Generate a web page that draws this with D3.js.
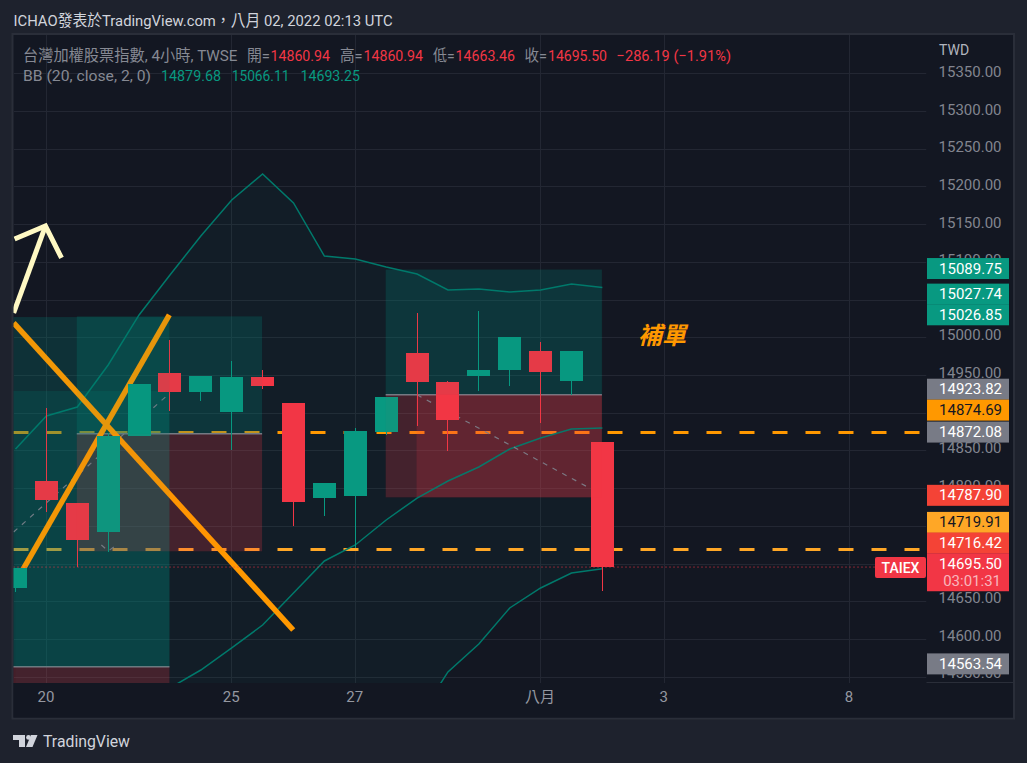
<!DOCTYPE html>
<html>
<head>
<meta charset="utf-8">
<script src="https://cdnjs.cloudflare.com/ajax/libs/d3/7.8.5/d3.min.js"></script>
<style>
html,body{margin:0;padding:0;background:#1e222d;overflow:hidden}
svg{display:block}
text{font-family:Roboto,"Noto Sans CJK TC",sans-serif}
</style>
</head>
<body>
<script>
// 4-hour TAIEX bars: [open, high, low, close]
const candles = [
  [14667.8,14694.3,14662.9,14694.3],[14809.6,14906.3,14768.9,14784.4],[14780.4,14780.4,14695.2,14731.8],
  [14742.4,14873.2,14715.9,14869.2],[14869.2,14938.1,14869.2,14938.1],[14952.7,14996.4,14902.7,14927.5],
  [14927.5,14948.7,14915.6,14948.7],[14901.0,14968.6,14850.6,14947.4],[14947.4,14956.7,14931.5,14935.5],
  [14912.9,14912.9,14749.9,14781.7],[14787.0,14806.9,14763.2,14806.9],[14789.8,14879.8,14720.8,14875.8],
  [14874.5,14920.9,14870.5,14920.9],[14979.2,15032.2,14882.5,14940.8],[14940.8,14942.1,14849.3,14890.4],
  [14948.7,15034.9,14928.8,14956.7],[14956.7,15000.4,14935.5,15000.4],[14981.8,14993.8,14886.4,14954.0],
  [14942.1,14981.8,14923.5,14981.8],[14860.94,14860.94,14663.46,14695.50]
];
// Bollinger bands (20, close, 2)
const bbUpper = [14852,14895.7,14907.6,14963.3,15029.6,15082.6,15134.2,15182,15216.4,15178,15107.7,15103.8,15093.2,15083.9,15062.7,15064,15060,15062.7,15070.6,15066.11];
const bbBasis = [14400,14426.6,14453,14479.6,14506,14535.3,14559.1,14588.3,14618.7,14661.1,14703.6,14724.8,14757.9,14787,14809.6,14828.1,14852,14866.6,14878.5,14879.68];
const bbLower = [13948,13957,13998.5,13996,13982,13988,13984,13994.6,14021,14144,14299.5,14345.8,14422.6,14492.8,14556.5,14593.6,14641.3,14667.8,14687.6,14693.25];

const gridPrices = [15350,15300,15250,15200,15150,15100,15050,15000,14950,14900,14850,14800,14750,14700,14650,14600,14550];
const priceTicks = [15350,15300,15250,15200,15150,15100,15000,14950,14850,14800,14650,14600,14550];
const dateTickBars = [1,7,11,17,21,27];
const dateTickLabels = ["20","25","27","八月","3","8"];

// Position tools: bar span plus top / entry / bottom prices
const zoneFrom = [-2,2,12];
const zoneTo = [5,8,19];
const zoneTop = [15026.85,15027.74,15089.75];
const zoneEntry = [14563.54,14872.08,14923.82];
const zoneBottom = [14400,14716.42,14787.90];
// Shaded excursion inside a position tool: bars and prices
const excursionGreen = {bars:[-2,5], prices:[14928.8,14563.54]};
const excursionRed = {bars:[13,19], prices:[14923.82,14787.90]};
const levelPrices = [14874.69,14719.91];
const levelColors = ["#FF9800","#FFA726"];
const lastClose = 14695.50;

// Hand-drawn trend lines as [bar, price] pairs
const trendDown = [[-0.06,15019],[8.99,14612.1]];
const trendUp = [[0.23,14691.6],[4.98,15029.6]];
const arrowShaft = [[-0.06,15032.2],[0.97,15147.5]];
const arrowHead = [[-0.03,15130.3],[0.97,15147.5],[1.49,15105.1]];
const pathDashes = [
  [[-0.06,14742],[5,14926.2]],
  [[2.78,14724.8],[3,14716.8],[3.27,14724.8]],
  [[13,14923.82],[18.76,14796.3]]
];

// Price tags on the axis
const tagValues = [15089.75,15027.74,15026.85,14923.82,14874.69,14872.08,14787.90,14719.91,14716.42,14695.50,14563.54];
const tagFills = ["#089981","#089981","#089981","#787B86","#FF9800","#787B86","#F44336","#FFA726","#F44336","#F23645","#787B86"];
const tagInk = ["#fff","#fff","#fff","#fff","#131722","#fff","#fff","#131722","#fff","#fff","#fff"];
const tagShift = [1,-20,0,-3,-19,1,1,-23,-5,0,1];
const countdown = "03:01:31";

const legendTitle = "台灣加權股票指數, 4小時, TWSE";
const ohlcNames = ["開=","高=","低=","收="];
const ohlcValues = ["14860.94","14860.94","14663.46","14695.50"];
const changeText = "−286.19 (−1.91%)";
const bbTitle = "BB (20, close, 2, 0)";
const bbValues = ["14879.68","15066.11","14693.25"];

const W = 1027, H = 763;
const plot = {l:13.5, r:926.5, t:35, b:683};
const axisRightEdge = 1013;
const RED = "#F23645", GREEN = "#089981", ZONE_GREEN = "#00897b";

const x = d3.scaleLinear().domain([0,19]).range([15.5,602.4]);
const y = d3.scaleLinear().domain([15000,14000]).range([337.3,1091.9]);
const yText = d3.scaleLinear().domain([15350,14600]).range([72,635.5]);

const svg = d3.select("body").append("svg").attr("width",W).attr("height",H);
svg.append("rect").attr("width",W).attr("height",H).attr("fill","#1e222d");

// Chart frame
svg.append("rect").attr("x",12.5).attr("y",34).attr("width",axisRightEdge-11.5).attr("height",684.5)
  .attr("fill","#131722").attr("stroke","#2a2e39").attr("stroke-width",2);

svg.append("defs").append("clipPath").attr("id","plotClip").append("rect")
  .attr("x",plot.l).attr("y",plot.t).attr("width",plot.r-plot.l).attr("height",plot.b-plot.t);
const g = svg.append("g").attr("clip-path","url(#plotClip)");

// Grid
const gridColor = "#232733";
g.append("g").selectAll("line").data(gridPrices).join("line")
  .attr("x1",plot.l).attr("x2",plot.r).attr("y1",d=>Math.round(y(d))+.5).attr("y2",d=>Math.round(y(d))+.5)
  .attr("stroke",gridColor);
g.append("g").selectAll("line").data(dateTickBars).join("line")
  .attr("y1",plot.t).attr("y2",plot.b).attr("x1",d=>Math.floor(x(d))+.5).attr("x2",d=>Math.floor(x(d))+.5)
  .attr("stroke",gridColor);

// Band fill
const bars = d3.range(candles.length);
g.append("path").datum(bars)
  .attr("d",d3.area().x(i=>x(i)).y0(i=>y(bbLower[i])).y1(i=>y(bbUpper[i])))
  .attr("fill",GREEN).attr("fill-opacity",.05);

// Horizontal levels
g.append("g").selectAll("line").data(levelPrices).join("line")
  .attr("x1",plot.l).attr("x2",plot.r).attr("y1",d=>Math.round(y(d))+.5).attr("y2",d=>Math.round(y(d))+.5)
  .attr("stroke",(d,i)=>levelColors[i]).attr("stroke-width",3).attr("stroke-dasharray","15,18");

// Position tools
function drawZones(layer, greenAlpha, redAlpha, lineAlpha){
  zoneFrom.forEach((f,i)=>{
    layer.append("rect").attr("x",x(f)-.5).attr("width",x(zoneTo[i])-x(f))
      .attr("y",y(zoneTop[i])).attr("height",y(zoneEntry[i])-y(zoneTop[i]))
      .attr("fill",ZONE_GREEN).attr("fill-opacity",greenAlpha);
    layer.append("rect").attr("x",x(f)-.5).attr("width",x(zoneTo[i])-x(f))
      .attr("y",y(zoneEntry[i])).attr("height",y(zoneBottom[i])-y(zoneEntry[i]))
      .attr("fill",RED).attr("fill-opacity",redAlpha);
    if(lineAlpha) layer.append("line").attr("x1",x(f)-.5).attr("x2",x(zoneTo[i])-.5)
      .attr("y1",y(zoneEntry[i])).attr("y2",y(zoneEntry[i]))
      .attr("stroke","#787b86").attr("stroke-width",1.5);
  });
}
drawZones(g,.2,.2,1);
[[excursionGreen,ZONE_GREEN],[excursionRed,RED]].forEach(([e,c])=>{
  g.append("rect").attr("x",x(e.bars[0])-.5).attr("width",x(e.bars[1])-x(e.bars[0]))
    .attr("y",y(e.prices[0])).attr("height",y(e.prices[1])-y(e.prices[0]))
    .attr("fill",c).attr("fill-opacity",.17);
});

// Band lines
[bbUpper,bbBasis,bbLower].forEach(series=>{
  g.append("path").datum(bars)
    .attr("d",d3.line().x(i=>x(i)).y(i=>y(series[i])))
    .attr("fill","none").attr("stroke","#00796b").attr("stroke-width",1.5);
});

// Drawings
const drawLine = d3.line().x(d=>x(d[0])).y(d=>y(d[1]));
pathDashes.forEach(p=>g.append("path").attr("d",drawLine(p)).attr("fill","none")
  .attr("stroke","#787b86").attr("stroke-width",1.2).attr("stroke-dasharray","5,6"));
[trendDown,trendUp].forEach(p=>g.append("path").attr("d",drawLine(p)).attr("fill","none")
  .attr("stroke","#FF9800").attr("stroke-width",5.5));
[arrowShaft,arrowHead].forEach(p=>g.append("path").attr("d",drawLine(p)).attr("fill","none")
  .attr("stroke","#FFF9C4").attr("stroke-width",5));

// Last-price line
g.append("line").attr("x1",plot.l).attr("x2",875).attr("y1",y(lastClose)).attr("y2",y(lastClose))
  .attr("stroke",RED).attr("stroke-dasharray","1,3");

// Candles
const bodyW = 23;
const bodyLeft = i => Math.round(x(i)-bodyW/2);
const cg = g.append("g").selectAll("g").data(candles).join("g");
cg.append("line").attr("x1",(d,i)=>bodyLeft(i)+11.5).attr("x2",(d,i)=>bodyLeft(i)+11.5)
  .attr("y1",d=>Math.round(y(d[1]))).attr("y2",d=>Math.round(y(d[2])))
  .attr("stroke",d=>d[3]>=d[0]?GREEN:RED);
cg.append("rect").attr("x",(d,i)=>bodyLeft(i)).attr("width",bodyW)
  .attr("y",d=>Math.round(y(Math.max(d[0],d[3]))))
  .attr("height",d=>Math.round(y(Math.min(d[0],d[3])))-Math.round(y(Math.max(d[0],d[3]))))
  .attr("fill",d=>d[3]>=d[0]?GREEN:RED);

// The position tools sit faintly over the bars as well
drawZones(g,.05,.03,0);

// Annotation
svg.append("text").attr("x",638).attr("y",344).text("補單")
  .attr("fill","#FF9800").attr("font-size",24).attr("font-weight",700).attr("font-style","italic");

// Price axis
const priceAxis = d3.axisRight(yText).tickValues(priceTicks).tickSize(0).tickFormat(d3.format(".2f"));
const pa = svg.append("g").attr("transform",`translate(${plot.r},0)`).call(priceAxis);
pa.select(".domain").remove();
pa.selectAll("text").attr("x",75).attr("text-anchor","end").attr("font-size",15)
  .attr("font-family","Roboto").attr("fill","#82858f");

// Cover below the plot: the date strip and the axis corner
svg.append("rect").attr("x",13.5).attr("y",plot.b).attr("width",axisRightEdge-13.5).attr("height",717.5-plot.b).attr("fill","#131722");
svg.append("line").attr("x1",plot.r).attr("x2",axisRightEdge).attr("y1",682.5).attr("y2",682.5).attr("stroke","#2a2e39");

// Date axis
const dateAxis = d3.axisBottom(x).tickValues(dateTickBars).tickSize(0)
  .tickFormat(d=>dateTickLabels[dateTickBars.indexOf(d)]);
const da = svg.append("g").attr("transform",`translate(-1,${plot.b})`).call(dateAxis);
da.select(".domain").remove();
da.selectAll("text").attr("y",14).attr("dy","0.32em").attr("font-size",15)
  .attr("font-family",'Roboto,"Noto Sans CJK TC"').attr("fill","#9598a1");

svg.append("text").attr("x",939).attr("y",55).text("TWD").attr("fill","#b2b5be").attr("font-size",14);

// Price tags
const tagH = 21;
tagValues.forEach((v,i)=>{
  const isLast = v===lastClose;
  const top = yText(v)-tagH/2+tagShift[i];
  svg.append("rect").attr("x",927).attr("y",top).attr("width",82).attr("height",isLast?38:tagH).attr("fill",tagFills[i]);
  svg.append("text").attr("x",1002).attr("y",top+15.5).attr("text-anchor","end")
    .attr("font-size",15).attr("fill",tagInk[i]).text(v.toFixed(2));
  if(isLast) svg.append("text").attr("x",1001).attr("y",top+32.5).attr("text-anchor","end")
    .attr("font-size",15).attr("fill","#f8b6bd").text(countdown);
});
svg.append("rect").attr("x",875).attr("y",557).attr("width",51).attr("height",21).attr("rx",2).attr("fill",RED);
svg.append("text").attr("x",900.5).attr("y",573).attr("text-anchor","middle").attr("font-size",14).attr("font-weight",500)
  .attr("fill","#fff").text("TAIEX");

// Header and legend text, fitted to their measured widths
function fitted(text,x0,x1,yy,color,size){
  svg.append("text").attr("x",x0).attr("y",yy).attr("fill",color).attr("font-size",size)
    .attr("textLength",x1-x0).attr("lengthAdjust","spacingAndGlyphs").text(text);
}
fitted("ICHAO發表於TradingView.com，八月 02, 2022 02:13 UTC",13.5,392.6,25.5,"#d1d4dc",15.5);
const muted = "#868993";
fitted(legendTitle,23,237.5,60.5,muted,15.5);
[[247,270,270.5,330],[340,362.6,363.5,423],[433,454.7,455.6,515],[524.5,547,548,607]].forEach((s,i)=>{
  fitted(ohlcNames[i],s[0],s[1],60.5,muted,15.5);
  fitted(ohlcValues[i],s[2],s[3],60.5,RED,15.5);
});
fitted(changeText,616.6,731,60.5,RED,15.5);
fitted(bbTitle,23,151,80.5,muted,15.5);
[[161,221],[231.7,289.4],[300.5,360]].forEach((s,i)=>fitted(bbValues[i],s[0],s[1],80.5,GREEN,15.5));

// TradingView mark
const logo = svg.append("g").attr("fill","#d1d4dc");
logo.append("path").attr("d","M13,735H25V747H19V740H13Z");
logo.append("circle").attr("cx",28.5).attr("cy",737.4).attr("r",2.4);
logo.append("path").attr("d","M31,735H37.5L32.5,747H26Z");
fitted("TradingView",43,130,747,"#d1d4dc",17);
</script>
</body>
</html>
